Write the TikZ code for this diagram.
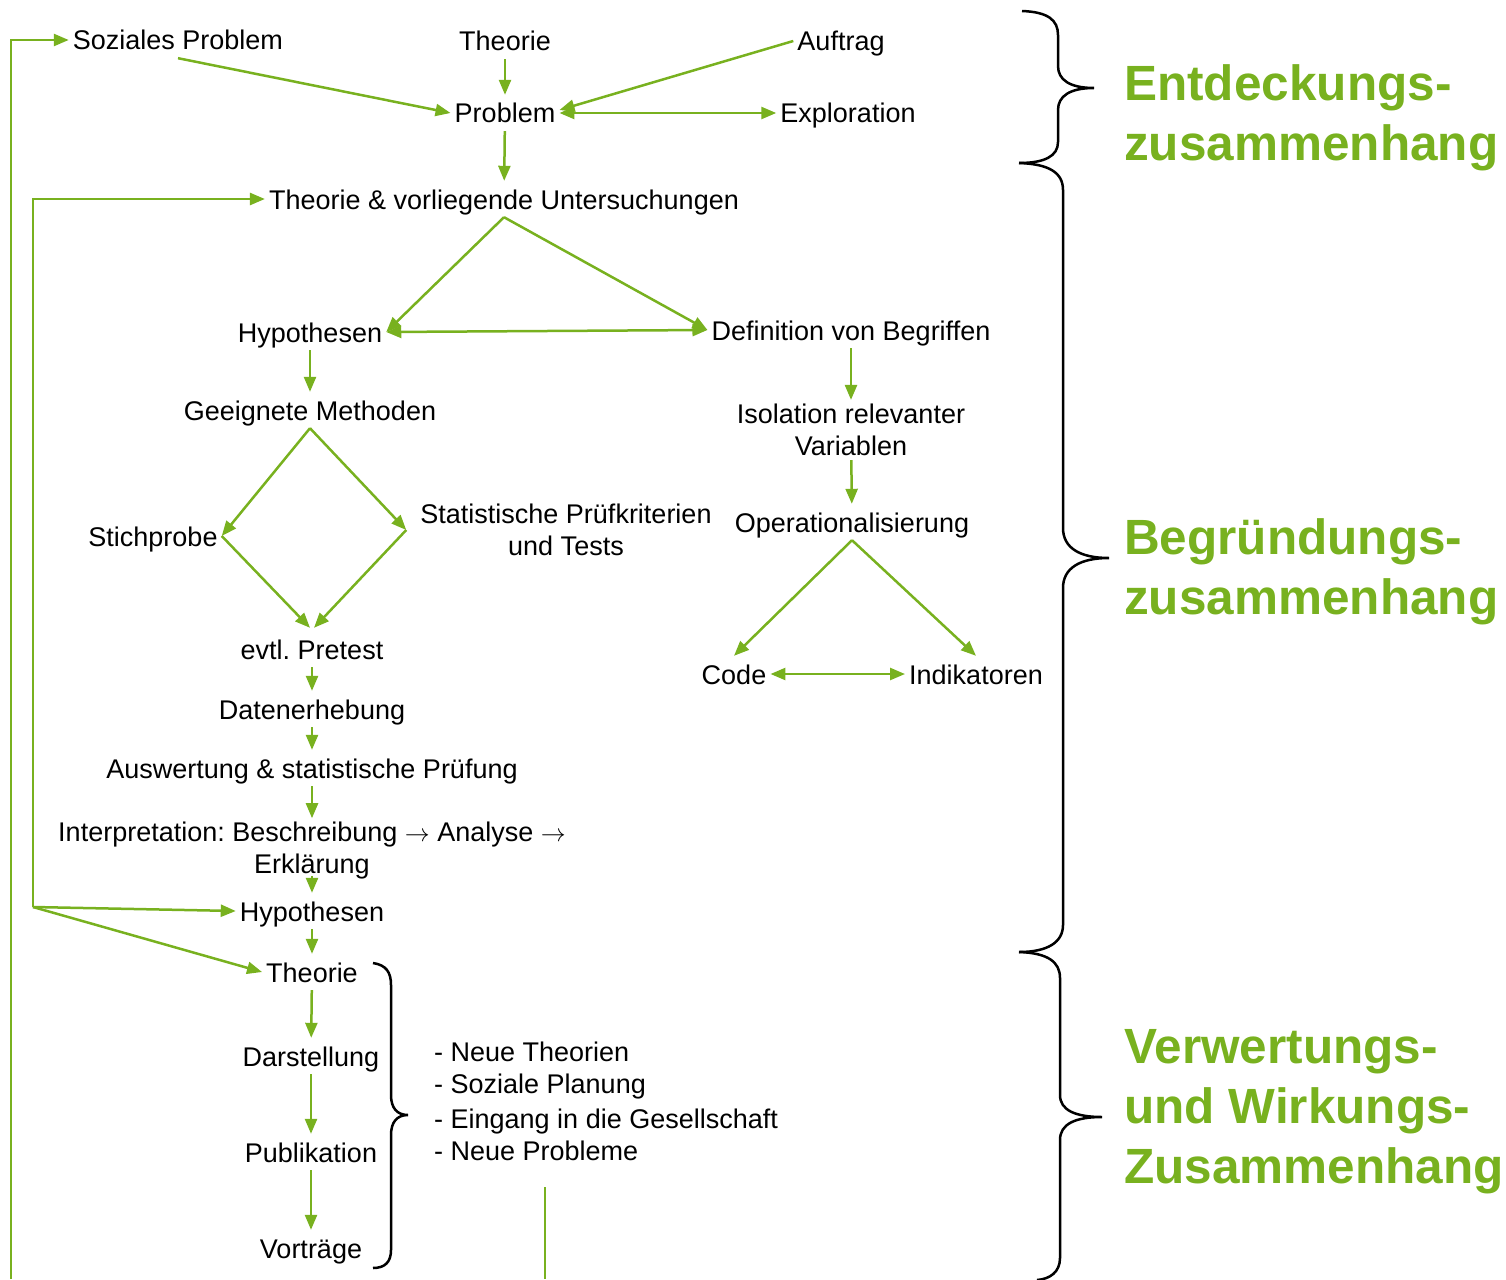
\documentclass[tikz,border=0pt]{standalone}
\usepackage{fontspec}
\setmainfont{Liberation Sans}
\usetikzlibrary{arrows.meta}
\definecolor{gr}{RGB}{120,177,31}
\frenchspacing
\tikzset{
  tip/.tip={Triangle[length=15pt,width=12pt]},
  gline/.style={draw=gr, line width=2.5pt},
  arr/.style={gline, -tip},
  darr/.style={gline, tip-tip},
  lbl/.style={font=\fontsize{27}{32}\selectfont, inner sep=4pt, text height=24pt, text depth=4pt},
  mlbl/.style={font=\fontsize{27}{32}\selectfont, inner sep=4pt, align=center},
  ttl/.style={font=\fontsize{49.5}{60}\selectfont\bfseries, text=gr, align=left, anchor=west, inner sep=0pt},
  brc/.style={draw=black, line width=2.5pt}
}
\newcommand{\rarr}{$\rightarrow$}
\begin{document}
\begin{tikzpicture}[x=1pt,y=-1pt]
\useasboundingbox (0,0) rectangle (1506,1279);
% nodes
\node[lbl] (sozp) at (178,40) {Soziales Problem};
\node[lbl] (theo) at (505,41) {Theorie};
\node[lbl] (auf) at (841,41) {Auftrag};
\node[lbl] (prob) at (505,113) {Problem};
\node[lbl] (expl) at (848,113) {Exploration};
\node[lbl] (tvu) at (504,199) {Theorie \& vorliegende Untersuchungen};
\node[lbl] (hyp1) at (310,332) {Hypothesen};
\node[lbl] (defb) at (851,330) {Definition von Begriffen};
\node[lbl] (meth) at (310,410) {Geeignete Methoden};
\node[mlbl] (iso) at (851,430) {Isolation relevanter\\Variablen};
\node[lbl] (stich) at (153,536) {Stichprobe};
\node[mlbl] (stat) at (566,530) {Statistische Prüfkriterien\\und Tests};
\node[lbl] (oper) at (852,522) {Operationalisierung};
\node[lbl] (pre) at (312,649) {evtl. Pretest};
\node[lbl] (code) at (734,674) {Code};
\node[lbl] (ind) at (976,674) {Indikatoren};
\node[lbl] (dat) at (312,709) {Datenerhebung};
\node[lbl] (ausw) at (312,768) {Auswertung \& statistische Prüfung};
\node[mlbl] (interp) at (312,851) {Interpretation: Beschreibung \rarr{} Analyse \rarr\\Erklärung};
\node[lbl] (hyp2) at (312,911) {Hypothesen};
\node[lbl] (theo2) at (312,972) {Theorie};
\node[lbl] (dar) at (311,1056) {Darstellung};
\node[lbl] (pub) at (311,1152) {Publikation};
\node[lbl] (vor) at (311,1248) {Vorträge};
\node[font=\fontsize{27}{32}\selectfont, align=left, anchor=west, inner sep=0pt] (list) at (434,1101)
  {- Neue Theorien\\- Soziale Planung\\[3pt]- Eingang in die Gesellschaft\\- Neue Probleme};
% titles
\node[ttl] (t1) at (1124,118) {Entdeckungs-\\zusammenhang};
\node[ttl] (t2) at (1124,572) {Begründungs-\\zusammenhang};
\node[ttl] (t3) at (1124,1112) {Verwertungs-\\und Wirkungs-\\Zusammenhang};
% helper coordinates
\coordinate (dR) at ([xshift=-10pt]stat.west);
\coordinate (fb) at (33,907);
\coordinate (ob) at (11,1279);
\coordinate (ot) at (11,40);
\coordinate (nb) at (545,1187);
\coordinate (ne) at (545,1279);
% connectors
\draw[arr] (theo) -- (prob);
\draw[arr] (sozp.south) -- (prob.west);
\draw[arr] (auf.west) -- ([yshift=3pt]prob.east);
\draw[darr] (prob) -- (expl);
\draw[arr] (prob) -- (tvu);
\draw[arr] (tvu.south) -- (hyp1.east);
\draw[arr] (tvu.south) -- (defb.west);
\draw[darr] (hyp1.east) -- (defb.west);
\draw[arr] (hyp1) -- (meth);
\draw[arr] (meth.south) -- (stich.east);
\draw[arr] (meth.south) -- (dR);
\draw[arr] (stich.east) -- ([xshift=-2pt,yshift=3pt]pre.north);
\draw[arr] (dR) -- ([xshift=2pt,yshift=3pt]pre.north);
\draw[arr] (defb) -- (iso);
\draw[arr] (iso) -- (oper);
\draw[arr] (oper.south) -- (code.north);
\draw[arr] (oper.south) -- (ind.north);
\draw[darr] (code) -- (ind);
\draw[arr] (pre) -- (dat);
\draw[arr] (dat) -- (ausw);
\draw[arr] (ausw) -- (interp);
\draw[arr] ([yshift=8pt]interp.south) -- (hyp2.north);
\draw[arr] (hyp2) -- (theo2);
\draw[arr] (theo2) -- (dar);
\draw[arr] (dar) -- (pub);
\draw[arr] (pub) -- (vor);
\draw[arr] (fb) |- (tvu.west);
\draw[arr] (fb) -- (hyp2.west);
\draw[arr] (fb) -- (theo2.west);
\draw[arr] (ob) -- (ot) -- (sozp.west);
\draw[gline] (nb) -- (ne);
% small brace
\draw[brc] (373,963) .. controls (386,965) and (391,972) .. (391,985) -- (391,1095)
  .. controls (391,1108) and (397,1115) .. (408,1115)
  .. controls (397,1115) and (391,1122) .. (391,1135) -- (391,1250)
  .. controls (391,1262) and (385,1268) .. (373,1268);
% big braces
\draw[brc] (1022,11) .. controls (1048,12) and (1058,20) .. (1058,35) -- (1058,66)
  .. controls (1058,80) and (1070,88) .. (1094,88)
  .. controls (1070,88) and (1058,96) .. (1058,110) -- (1058,142)
  .. controls (1058,156) and (1045,163) .. (1019,163);
\draw[brc] (1019,163) .. controls (1048,164) and (1063,172) .. (1063,190) -- (1063,528)
  .. controls (1063,548) and (1080,558) .. (1109,558)
  .. controls (1080,558) and (1063,568) .. (1063,588) -- (1063,925)
  .. controls (1063,942) and (1048,952) .. (1019,952);
\draw[brc] (1019,952) .. controls (1048,953) and (1060,962) .. (1060,978) -- (1060,1095)
  .. controls (1060,1110) and (1075,1117) .. (1102,1117)
  .. controls (1075,1117) and (1060,1124) .. (1060,1140) -- (1060,1258)
  .. controls (1060,1272) and (1050,1279) .. (1037,1280);
\end{tikzpicture}
\end{document}
